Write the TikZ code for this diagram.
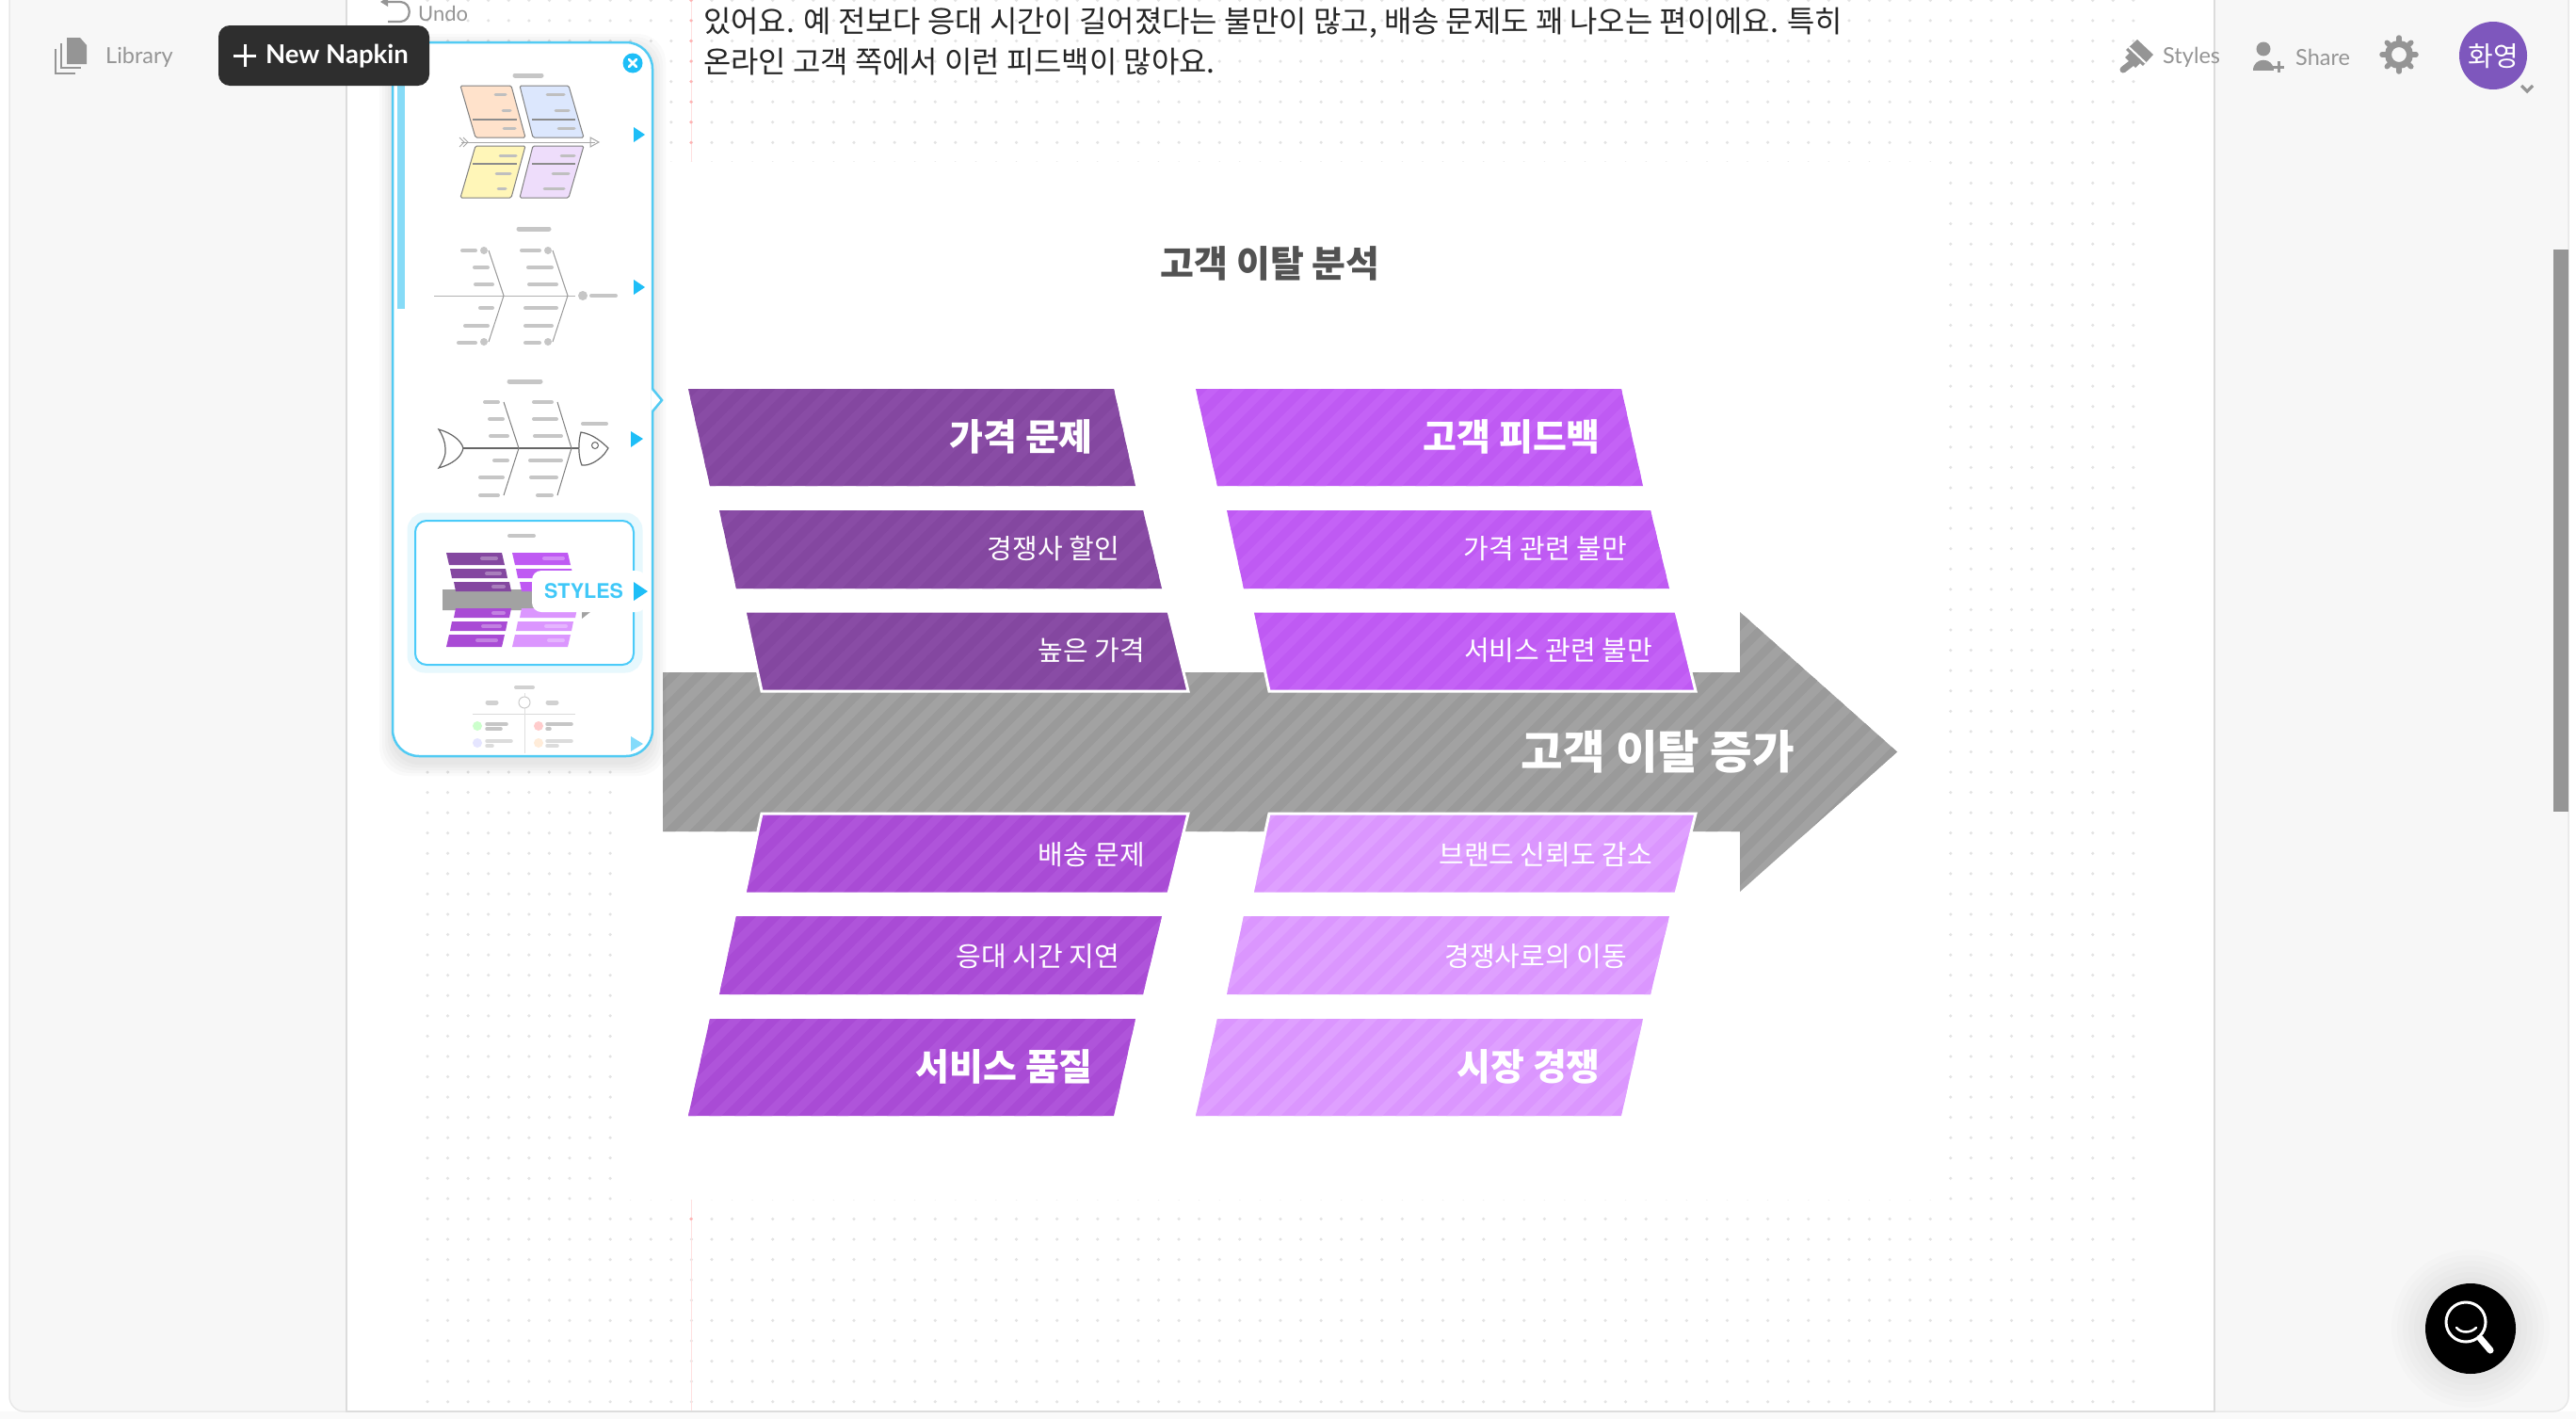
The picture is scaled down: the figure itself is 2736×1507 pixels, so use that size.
\documentclass[tikz,border=0pt]{standalone}
\usepackage{fontspec}
\newfontfamily\kr{Noto Sans CJK KR}
\newfontfamily\ui{Lato}
\newfontfamily\hv{TeX Gyre Heros}
\definecolor{pgray}{HTML}{F7F7F7}
\definecolor{edgeg}{HTML}{DCDCDC}
\definecolor{uig}{HTML}{959595}
\definecolor{cy}{HTML}{52CBF3}
\definecolor{cyb}{HTML}{1EBEF7}
\definecolor{dark}{HTML}{8447A0}
\definecolor{darks}{HTML}{894CA5}
\definecolor{vio}{HTML}{BF5AF3}
\definecolor{vios}{HTML}{C462F6}
\definecolor{mid}{HTML}{A94BD5}
\definecolor{mids}{HTML}{AF54DA}
\definecolor{lil}{HTML}{DB96FE}
\definecolor{lils}{HTML}{DFA0FF}
\definecolor{arw}{HTML}{A2A2A2}
\definecolor{arws}{HTML}{9A9A9A}
\definecolor{tb}{HTML}{C6C6C6}
\definecolor{avatarc}{HTML}{7E57BD}
\tikzset{
 bigl/.style={font=\kr\bfseries\fontsize{39}{42}\selectfont,text=white,anchor=east,inner sep=0pt},
 subl/.style={font=\kr\fontsize{29}{32}\selectfont,text=white,anchor=east,inner sep=0pt},
 uilabel/.style={font=\ui\fontsize{23.5}{28}\selectfont,text=uig,anchor=west,inner sep=0pt},
 bodyt/.style={font=\kr\fontsize{31.9}{36}\selectfont,text=black!85,anchor=west,inner sep=0pt},
 tbar/.style={color=tb,line cap=round},
 tri/.style={fill=cyb},
}
\newcommand\stripedpoly[3]{%
 \fill[#2] #1;
 \begin{scope}
 \clip #1;
 \foreach \sx in {-300,-273,...,1720}{\draw[#3,line width=9pt] (\sx,1300) -- ++(1000,-1000);}
 \end{scope}}
\newcommand\bandpoly[3]{%
 \stripedpoly{#1}{#2}{#3}
 \draw[white,line width=3pt,line join=miter] #1;}
\begin{document}
\begin{tikzpicture}[x=1pt,y=-1pt]
\useasboundingbox (0,0) rectangle (2736,1507);
\fill[white] (0,0) rectangle (2736,1507);
\fill[black!2] (0,1499) rectangle (2736,1507);
% app frame
\draw[fill=pgray,draw=black!9,line width=1.5pt,rounded corners=16pt] (10,-40) rectangle (2728,1499);
\fill[white] (368,0) rectangle (2352,1498);
\draw[edgeg,line width=1.5pt] (368,0) -- (368,1499) -- (2352,1499) -- (2352,0);
\fill[uig] (2712,265) rectangle (2728,862);
% paper dots
\foreach \k in {-38,...,31}{
 \draw[black!11,line width=3.5pt,line cap=round,dash pattern=on 0pt off 21.57pt]
   (454,820+\k*21.57) -- (2270,820+\k*21.57);
}
\fill[white] (660,172) rectangle (2061,1274);
\draw[red!12,line width=1pt] (734,0) -- (734,172);
\draw[red!12,line width=1pt] (734,1274) -- (734,1498);
\foreach \k in {-38,...,-31,22,...,31}{\fill[red!30] (734,820+\k*21.57) circle (1.8);}
% text above
\node[bodyt] (para1) at (747,24) {있어요. 예 전보다 응대 시간이 길어졌다는 불만이 많고, 배송 문제도 꽤 나오는 편이에요. 특히};
\node[bodyt] (para2) at (747,66) {온라인 고객 쪽에서 이런 피드백이 많아요.};
\node[font=\kr\bfseries\fontsize{39}{42}\selectfont,text=black!68,inner sep=0pt] (title) at (1349,280) {고객 이탈 분석};
% big arrow
\stripedpoly{(704,714) -- (1848,714) -- (1848,650) -- (2015,798.5) -- (1848,947) -- (1848,883) -- (704,883) -- cycle}{arw}{arws}
% bands left column
\stripedpoly{(731,413) -- (1183,413) -- (1206,516) -- (754,516) -- cycle}{dark}{darks}
\stripedpoly{(764,542) -- (1214,542) -- (1234,625) -- (782,625) -- cycle}{dark}{darks}
\bandpoly{(791,649) -- (1241,649) -- (1262,734) -- (809,734) -- cycle}{dark}{darks}
\bandpoly{(809,864) -- (1262,864) -- (1241,949) -- (791,949) -- cycle}{mid}{mids}
\stripedpoly{(782,973) -- (1234,973) -- (1214,1056) -- (764,1056) -- cycle}{mid}{mids}
\stripedpoly{(754,1082) -- (1206,1082) -- (1183,1185) -- (731,1185) -- cycle}{mid}{mids}
% bands right column
\stripedpoly{(1270,413) -- (1722,413) -- (1745,516) -- (1293,516) -- cycle}{vio}{vios}
\stripedpoly{(1303,542) -- (1753,542) -- (1773,625) -- (1321,625) -- cycle}{vio}{vios}
\bandpoly{(1330,649) -- (1780,649) -- (1801,734) -- (1348,734) -- cycle}{vio}{vios}
\bandpoly{(1348,864) -- (1801,864) -- (1780,949) -- (1330,949) -- cycle}{lil}{lils}
\stripedpoly{(1321,973) -- (1773,973) -- (1753,1056) -- (1303,1056) -- cycle}{lil}{lils}
\stripedpoly{(1293,1082) -- (1745,1082) -- (1722,1185) -- (1270,1185) -- cycle}{lil}{lils}
% labels
\node[bigl] (a1) at (1161,464) {가격 문제};
\node[subl] (a2) at (1189,583) {경쟁사 할인};
\node[subl] (a3) at (1216,691) {높은 가격};
\node[subl] (b1) at (1216,908) {배송 문제};
\node[subl] (b2) at (1189,1016) {응대 시간 지연};
\node[bigl] (b3) at (1161,1133) {서비스 품질};
\node[bigl] (c1) at (1700,464) {고객 피드백};
\node[subl] (c2) at (1728,583) {가격 관련 불만};
\node[subl] (c3) at (1755,691) {서비스 관련 불만};
\node[subl] (d1) at (1755,908) {브랜드 신뢰도 감소};
\node[subl] (d2) at (1728,1016) {경쟁사로의 이동};
\node[bigl] (d3) at (1700,1133) {시장 경쟁};
\node[font=\kr\bfseries\fontsize{48.5}{52}\selectfont,text=white,anchor=east,inner sep=0pt] (head) at (1906,798) {고객 이탈 증가};
% template panel shadow
\foreach \e in {14,11,8,5,2}{\fill[black,opacity=.018,rounded corners=30pt] (417-\e,50-\e) rectangle (693+\e,810+\e);}
\draw[fill=white,draw=cy,line width=2.5pt,rounded corners=28pt] (417,45) rectangle (693,803);
\fill[white] (692,413) -- (702,425) -- (692,437) -- cycle;
\draw[cy,line width=2.5pt] (693,413) -- (703,425) -- (693,437);
\fill[cy!70] (422,60) rectangle (430,328);
\fill[cyb] (672,67) circle (10.5);
\draw[white,line width=2.6pt,line cap=round] (668,63) -- (676,71) (676,63) -- (668,71);
% thumbnail triangles
\fill[tri] (673,135) -- (685,143) -- (673,151) -- cycle;
\fill[tri] (673,297) -- (685,305) -- (673,313) -- cycle;
\fill[tri] (670,458) -- (683,466) -- (670,475) -- cycle;
% thumb 1
\draw[tbar,line width=5pt] (547,80) -- (575,80);
\definecolor{t1}{HTML}{FFE2CB}\definecolor{t2}{HTML}{DCE7FD}\definecolor{t3}{HTML}{FFF6B8}\definecolor{t4}{HTML}{EEDDFB}
\begin{scope}[draw=black!50,line width=1pt,rounded corners=1.5pt]
\filldraw[fill=t1] (489,91) -- (543,91) -- (558,146) -- (505,146) -- cycle;
\filldraw[fill=t2] (552,91) -- (604,91) -- (620,146) -- (566,146) -- cycle;
\filldraw[fill=t3] (505,155) -- (558,155) -- (543,210) -- (489,210) -- cycle;
\filldraw[fill=t4] (566,155) -- (620,155) -- (604,210) -- (552,210) -- cycle;
\end{scope}
\draw[black!45,line width=1.2pt] (502,127) -- (549,127) (565,127) -- (611,127) (502,174) -- (549,174) (565,174) -- (611,174);
\draw[black!35,line width=1pt] (490,151) -- (632,151);
\draw[black!35,line width=1pt] (627,146) -- (636,151) -- (627,156) -- cycle;
\draw[black!35,line width=1pt] (488,146) -- (493,151) -- (488,156) (492,146) -- (497,151) -- (492,156);
\foreach \a/\b/\c in {526/537/100,534/542/117,535/547/136,581/599/100,590/604/117,593/610/136,531/548/165,527/542/184,529/537/200,596/610/165,587/604/184,578/599/200}{
 \draw[line cap=round,color=black!25,line width=3pt] (\a,\c) -- (\b,\c);}
% thumb 2
\draw[tbar,line width=5pt] (551,243) -- (583,243);
\draw[black!30,line width=1pt] (461,314) -- (611,314);
\draw[black!40,line width=1pt] (519,266) -- (535,314) -- (519,363) (587,266) -- (603,314) -- (587,363);
\fill[tb] (619,314) circle (5) (514,266) circle (4) (582,266) circle (4) (514,363) circle (4) (582,363) circle (4);
\foreach \a/\b/\c in {628/654/314,491/505/266,504/518/284,505/523/302,510/523/327,494/518/346,487/505/364,554/573/266,561/586/284,562/591/302,558/591/327,558/586/346,558/573/364}{
 \draw[tbar,line width=4pt] (\a,\c) -- (\b,\c);}
% thumb 3
\draw[tbar,line width=5pt] (541,405) -- (574,405);
\draw[black!60,line width=2pt] (492,476) -- (617,476);
\draw[black!50,line width=1pt] (535,427) -- (551,476) -- (535,526) (592,427) -- (607,476) -- (592,526);
\draw[black!60,line width=1.2pt,fill=white] (466,456) .. controls (480,460) and (490,468) .. (492,476) .. controls (490,486) and (480,493) .. (466,497) .. controls (471,490) and (474,482) .. (473,476) .. controls (473,470) and (470,462) .. (466,456) -- cycle;
\draw[black!60,line width=1.2pt,fill=white] (617,459) .. controls (630,461) and (640,470) .. (646,476) -- (642,482) .. controls (635,490) and (625,495) .. (618,494) .. controls (614,485) and (614,469) .. (617,459) -- cycle;
\draw[black!60,line width=1pt] (632,473) circle (3.5);
\foreach \a/\b/\c in {515/529/427,520/534/445,521/539/463,525/539/489,510/534/507,510/529/526,567/586/427,567/591/445,568/596/463,563/596/489,564/591/507,571/586/526,619/644/450}{
 \draw[tbar,line width=4pt] (\a,\c) -- (\b,\c);}
% thumb 4 (selected)
\draw[draw=cy!14,line width=9pt,rounded corners=14pt] (437,549) rectangle (678,710);
\draw[fill=white,draw=cyb!80,line width=2pt,rounded corners=12pt] (441,553) rectangle (673,706);
\draw[tbar,line width=4pt] (541,569) -- (567,569);
\fill[arw] (470,626) -- (618,626) -- (618,607) -- (650,632) -- (618,657) -- (618,648) -- (470,648) -- cycle;
\fill[dark] (474,587) -- (533,587) -- (536,600) -- (477,600) -- cycle;
\fill[dark] (478,604) -- (537,604) -- (539,614) -- (480,614) -- cycle;
\fill[dark] (482,618) -- (541,618) -- (543,628) -- (484,628) -- cycle;
\fill[mid] (484,646) -- (543,646) -- (541,656) -- (482,656) -- cycle;
\fill[mid] (480,660) -- (539,660) -- (537,670) -- (478,670) -- cycle;
\fill[mid] (477,674) -- (536,674) -- (533,687) -- (474,687) -- cycle;
\fill[vio] (544,587) -- (603,587) -- (606,600) -- (547,600) -- cycle;
\fill[vio] (548,604) -- (607,604) -- (609,614) -- (550,614) -- cycle;
\fill[vio] (552,618) -- (611,618) -- (613,628) -- (554,628) -- cycle;
\fill[lil] (554,646) -- (613,646) -- (611,656) -- (552,656) -- cycle;
\fill[lil] (550,660) -- (609,660) -- (607,670) -- (548,670) -- cycle;
\fill[lil] (547,674) -- (606,674) -- (603,687) -- (544,687) -- cycle;
\foreach \a/\b/\c in {512/527/593,517/531/609,524/535/623,524/535/651,513/531/665,507/527/680,578/598/593,580/601/665,583/598/680}{
 \draw[white,opacity=.3,line cap=round,line width=4pt] (\a,\c) -- (\b,\c);}
\fill[white,rounded corners=10pt] (565,606) rectangle (686,650);
\node[font=\hv\bfseries\fontsize{21.5}{24}\selectfont,text=cyb!85,inner sep=0pt] (styles) at (620,628) {STYLES};
\fill[tri] (673,618) -- (688,628) -- (673,638) -- cycle;
% thumb 5 (faded)
\draw[tbar,line width=4pt,opacity=.8] (548,730) -- (566,730);
\draw[black!15,line width=1pt] (502,758) -- (611,758);
\draw[black!12,line width=1pt] (557,736) -- (557,800);
\draw[tbar,line width=5pt,opacity=.8] (518,746) -- (527,746) (582,746) -- (591,746);
\draw[black!20,fill=white,line width=1pt] (557,746) circle (6);
\fill[green!20] (507,771) circle (5);
\fill[red!20] (572,771) circle (5);
\fill[blue!10] (507,789) circle (5);
\fill[orange!15] (572,789) circle (5);
\foreach \a/\b/\c in {517/538/769,517/532/774,581/607/769,581/584/774}{\draw[tbar,line width=3.5pt] (\a,\c) -- (\b,\c);}
\foreach \a/\b/\c in {517/543/787,517/523/792,581/607/787,581/592/792}{\draw[tbar,line width=3.5pt,opacity=.6] (\a,\c) -- (\b,\c);}
\fill[cyb!55] (670,782) -- (683,790) -- (670,798) -- cycle;
% top left UI
\fill[uig] (71,40) -- (85,40) -- (92,48) -- (92,68) -- (71,68) -- cycle;
\draw[uig,line width=2.6pt] (65,46) -- (65,72) -- (86,72);
\draw[uig,line width=2.6pt] (59,52) -- (59,78) -- (80,78);
\node[uilabel] (library) at (112,61) {Library};
\fill[black!82,rounded corners=12pt] (232,27) rectangle (456,91);
\draw[white,line width=3pt] (248,59) -- (272,59) (260,47) -- (260,71);
\node[font=\ui\bfseries\fontsize{27.5}{32}\selectfont,text=white,anchor=west,inner sep=0pt] (newn) at (282,60) {New Napkin};
\draw[uig,line width=2.2pt] (412,23) -- (425,23) .. controls (438,23) and (438,2) .. (425,2) -- (410,2);
\fill[uig] (404,2) -- (412,-3) -- (412,7) -- cycle;
\node[uilabel,font=\ui\fontsize{22}{26}\selectfont] (undo) at (444,14) {Undo};
% top right UI
\fill[uig] (2270,42) -- (2287,58) -- (2276,70) -- (2258,53) -- cycle;
\draw[uig,line width=7pt,line cap=round] (2268,64) -- (2255,74);
\fill[uig] (2262,56) -- (2273,67) -- (2268,72) -- (2257,61) -- cycle;
\draw[white,line width=2pt] (2261,50) -- (2279,67);
\node[uilabel] (stylesb) at (2297,61) {Styles};
\fill[uig] (2404,52) circle (7.5);
\fill[uig] (2393,75) .. controls (2393,60) and (2415,60) .. (2415,75) -- cycle;
\draw[uig,line width=3pt] (2414,71) -- (2426,71) (2420,65) -- (2420,77);
\node[uilabel] (share) at (2438,61) {Share};
\foreach \g in {0,45,...,315}{\draw[uig,line width=5.5pt,line cap=round] (2548,58) ++(\g:13) -- ++(\g:5);}
\draw[uig,line width=7pt] (2548,58) circle (11.5);
\fill[avatarc] (2648,59) circle (36);
\node[font=\kr\fontsize{29}{31}\selectfont,text=white,inner sep=0pt] (avatar) at (2648,60) {화영};
\draw[uig,line width=3.2pt] (2678,91) -- (2684,97) -- (2690,91);
% search
\foreach \e in {36,30,24,18,12,6}{\fill[black,opacity=.012] (2624,1411) circle (48+\e);}
\fill[black] (2624,1411) circle (48);
\draw[white,line width=3pt] (2619,1404) circle (21);
\draw[white,line width=7pt,line cap=round] (2634,1421) -- (2645,1434);
\draw[white,line width=2.5pt,line cap=round] (2609,1410) .. controls (2614,1416) and (2624,1416) .. (2630,1410);
\end{tikzpicture}
\end{document}
